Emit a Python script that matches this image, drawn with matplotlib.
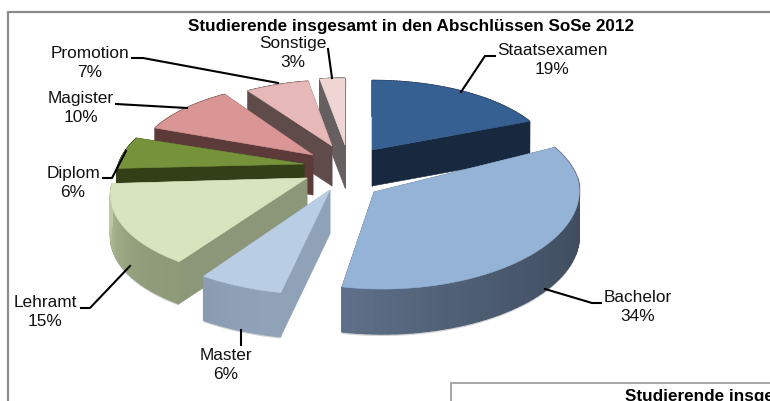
import numpy as np
import matplotlib
matplotlib.use('Agg')
import matplotlib.pyplot as plt
from matplotlib.colors import to_rgb

labels = ['Staatsexamen', 'Bachelor', 'Master', 'Lehramt', 'Diplom', 'Magister', 'Promotion', 'Sonstige']
values = [19, 34, 6, 15, 6, 10, 7, 3]
title = 'Studierende insgesamt in den Abschlüssen SoSe 2012'

# layout, everything in image pixels
centre = [(372, 150), (390, 180), (332, 188), (296, 178), (304, 163), (316, 152), (335, 146), (345, 140)]
tip = [(372, 150), (374, 192), (330, 190), (307, 178), (304, 164), (313, 155), (332, 146), (345, 145)]
radius = [180, 188, 200, 182, 185, 178, 170, 160]
squash = [0.46, 0.50, 0.46, 0.48, 0.46, 0.46, 0.46, 0.46]
depth = [36, 45, 44, 42, 40, 40, 40, 43]
top_cols = ['#376092', '#95B3D7', '#B9CDE5', '#D7E4BD', '#76933C', '#D99694', '#E6B9B8', '#EFD6D5']
face_cols = ['#18293F', '#3F4C5F', '#8FA2B8', '#8C9679', '#333F17', '#5C3A39', '#5F4B4A', '#665F5F']
wall_start = ['#18293F', '#3C4A5C', '#8FA2B8', '#8E9A78', '#333F17', '#5C3A39', '#5F4B4A', '#665F5F']
wall_end = ['#18293F', '#5E7089', '#8A9CB2', '#BCCAA0', '#333F17', '#5C3A39', '#5F4B4A', '#665F5F']
draw_order = [7, 6, 5, 4, 3, 2, 0, 1]

label_pos = [(552, 60), (638, 307), (226, 365), (45, 312), (73, 183), (81, 108), (90, 63), (293, 53)]
leaders = [
    [(461, 92), (485, 56), (495, 56)],
    [(545, 289), (592, 303), (601, 303)],
    [(241, 330), (241, 345)],
    [(130, 266), (90, 308), (81, 308)],
    [(126, 151), (112, 178), (103, 178)],
    [(116, 104), (187, 108)],
    [(132, 58), (143, 58), (278, 83)],
    [(328, 49), (332, 78)],
]

PERSP = 0.16
LEAN = 0.04


def project(i, a):
    # a is clockwise from the top of the pie
    v = -np.cos(a)
    s = 1 + PERSP * v
    x = centre[i][0] + radius[i] * (np.sin(a) * s - LEAN * np.maximum(v, 0))
    y = centre[i][1] + radius[i] * squash[i] * v * s
    return x, y


fig = plt.figure(figsize=(7.7, 4.01), dpi=100)
ax = fig.add_axes([0, 0, 1, 1])
ax.set_xlim(0, 770)
ax.set_ylim(401, 0)
ax.axis('off')
plt.rcParams['font.family'] = ['Liberation Sans', 'DejaVu Sans']

# outer frames
ax.plot([770, 7.5, 7.5], [12, 12, 401], color='#8C8C8C', lw=1.6, solid_joinstyle='miter')
ax.plot([770, 451, 451], [383, 383, 401], color='#A6A6A6', lw=1.4, solid_joinstyle='miter')

edges = np.radians(np.cumsum([0] + values) * 3.6)

for i in draw_order:
    a0, a1 = edges[i], edges[i + 1]
    th = np.linspace(a0, a1, 60)
    xs, ys = project(i, th)
    cx, cy = tip[i]
    d = depth[i]
    # soft shadow under the outer wall
    ax.fill(np.r_[xs, xs[::-1] + 1.5], np.r_[ys + d + 2, ys[::-1]], color='#808080', alpha=0.35, lw=0)
    # radial faces
    for k in [0, -1]:
        ax.fill([cx, xs[k], xs[k], cx], [cy, ys[k], ys[k] + d, cy + d],
                color=face_cols[i], lw=0.4)
    # outer wall with a gradient
    c0, c1 = np.array(to_rgb(wall_start[i])), np.array(to_rgb(wall_end[i]))
    for j in range(len(th) - 1):
        t = j / (len(th) - 2)
        col = c0 + (c1 - c0) * t ** 2
        ax.fill([xs[j], xs[j + 1], xs[j + 1], xs[j]],
                [ys[j], ys[j + 1], ys[j + 1] + d, ys[j] + d], color=col, lw=1.0)
    # top
    ax.fill(np.r_[cx, xs], np.r_[cy, ys], color=top_cols[i], lw=0.4)

for pts in leaders:
    p = np.array(pts)
    ax.plot(p[:, 0], p[:, 1], color='black', lw=1.5)

for name, val, pos in zip(labels, values, label_pos):
    ax.text(pos[0], pos[1], f'{name}\n{val}%', ha='center', va='center', fontsize=12.4,
            linespacing=1.3, color='#111111')

ax.text(411, 26, title, ha='center', va='center', fontsize=12.3, fontweight='bold')
ax.text(625, 396, title, ha='left', va='center', fontsize=12.3, fontweight='bold', clip_on=True)

fig.savefig('out.png', dpi=100)
